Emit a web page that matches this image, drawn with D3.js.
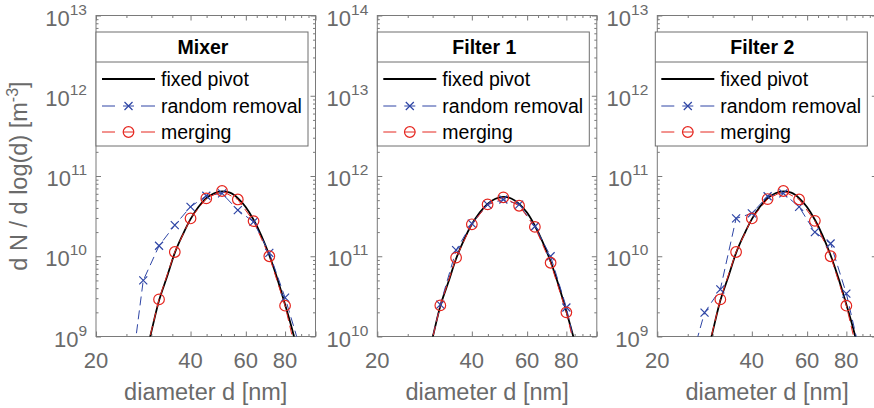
<!DOCTYPE html>
<html><head><meta charset="utf-8">
<script src="https://cdn.jsdelivr.net/npm/d3@7"></script>
<style>
html,body{margin:0;padding:0;background:#fff;}
svg{display:block;font-family:"Liberation Sans",Arial,Helvetica,sans-serif;}
</style></head>
<body>
<svg id="chart" width="874" height="408"></svg>
<script>
// ---------------- DATA ----------------
const panelTitles = ["Mixer", "Filter 1", "Filter 2"];
const yDecadeMin = [9, 10, 9];           // lower decade exponent of each panel
const yDecadeMax = [13, 14, 13];         // upper decade exponent of each panel
const xTickLabels = [20, 40, 60, 80];
const xMinorTicks = [25, 30, 35, 45, 50, 55, 65, 70, 75, 85, 90, 95];
const seriesNames = ["fixed pivot", "random removal", "merging"];

// section diameters [nm] used by the sectional methods
const sectionDiam = [25.2, 28.28, 31.75, 35.64, 40.0, 44.9, 50.4, 56.57, 63.5, 71.27, 80.0, 89.8];
// fine grid of the fixed-pivot solution [nm]
const pivotDiam = [25.2, 26.7, 28.28, 29.97, 31.75, 33.64, 35.64, 37.76, 40.0, 42.38, 44.9, 47.57,
                   50.4, 53.39, 56.57, 59.93, 63.5, 67.27, 71.27, 75.51, 80.0, 84.76, 89.8];

// Mixer
const mixerPivot   = [4.8e7, 1.5e8, 4.3e8, 1.12e9, 2.8e9, 5.5e9, 1.1e10, 1.85e10, 2.9e10, 4.1e10, 5.28e10, 6.1e10,
                      6.45e10, 6.2e10, 5.3e10, 4.1e10, 2.85e10, 1.8e10, 1.03e10, 5.3e9, 2.5e9, 1.12e9, 4.3e8];
const mixerRandom  = [1.5e8, 5.0e9, 1.35e10, 2.44e10, 4.13e10, 5.68e10, 6.08e10, 3.76e10, 2.68e10, 1.1e10, 3.05e9, 6.7e8];
const mixerMerging = [2.0e7, 4.5e8, 2.9e9, 1.13e10, 2.96e10, 5.26e10, 6.5e10, 5.1e10, 2.74e10, 1.0e10, 2.42e9, 3.5e8];

// Filter 1
const filter1Pivot   = [4.0e8, 1.3e9, 3.7e9, 9.5e9, 2.4e10, 4.7e10, 9.3e10, 1.6e11, 2.5e11, 3.5e11, 4.5e11, 5.2e11,
                        5.5e11, 5.25e11, 4.5e11, 3.5e11, 2.4e11, 1.5e11, 8.6e10, 4.4e10, 2.05e10, 9.0e9, 3.5e9];
const filter1Random  = [3.0e8, 3.6e9, 2.5e10, 1.19e11, 2.55e11, 4.4e11, 5.1e11, 4.4e11, 2.35e11, 1.0e11, 2.3e10, 3.0e9];
const filter1Merging = [3.0e8, 3.6e9, 2.44e10, 9.6e10, 2.5e11, 4.43e11, 5.42e11, 4.26e11, 2.32e11, 8.3e10, 2.0e10, 3.0e9];

// Filter 2
const filter2Pivot   = [4.8e7, 1.5e8, 4.3e8, 1.12e9, 2.8e9, 5.5e9, 1.1e10, 1.85e10, 2.9e10, 4.1e10, 5.28e10, 6.1e10,
                        6.45e10, 6.2e10, 5.3e10, 4.1e10, 2.85e10, 1.8e10, 1.03e10, 5.3e9, 2.5e9, 1.12e9, 4.3e8];
const filter2Random  = [4.0e8, 1.98e9, 3.87e9, 2.96e10, 3.42e10, 5.6e10, 6.08e10, 4.13e10, 2.0e10, 1.44e10, 3.42e9, 4.8e8];
const filter2Merging = [2.0e7, 4.5e8, 2.9e9, 1.13e10, 2.96e10, 5.16e10, 6.5e10, 5.1e10, 2.76e10, 1.0e10, 2.42e9, 3.5e8];

const pivotSeries   = [mixerPivot, filter1Pivot, filter2Pivot];
const randomSeries  = [mixerRandom, filter1Random, filter2Random];
const mergingSeries = [mixerMerging, filter1Merging, filter2Merging];

// ---------------- LAYOUT / STYLE ----------------
const panelLeft = [96, 377.3, 657.3];
const plotW = 219.5, plotTop = 15.5, plotBottom = 336.5;
const legendOffset = [0, 0, -2];
const axisColor = "#7a7a7a", tickTextColor = "#6a6a6a";
const blue = "#2e45a5", red = "#e5261f";

const svg = d3.select("#chart");

panelTitles.forEach((title, p) => {
  const L = panelLeft[p];
  const x = d3.scaleLog().domain([20, 100]).range([L, L + plotW]);
  const y = d3.scaleLog().domain([Math.pow(10, yDecadeMin[p]), Math.pow(10, yDecadeMax[p])]).range([plotBottom, plotTop]);
  const g = svg.append("g");

  const clipId = "clip" + p;
  svg.append("clipPath").attr("id", clipId).append("rect")
    .attr("x", L).attr("y", plotTop).attr("width", plotW).attr("height", plotBottom - plotTop);

  // y ticks
  const yMajor = d3.range(yDecadeMin[p], yDecadeMax[p] + 1).map(e => Math.pow(10, e));
  const yMinor = [];
  for (let e = yDecadeMin[p]; e < yDecadeMax[p]; e++) for (let m = 2; m <= 9; m++) yMinor.push(m * Math.pow(10, e));

  function styleAxis(sel) {
    sel.select(".domain").remove();
    sel.selectAll(".tick line").attr("stroke", axisColor).attr("stroke-width", 1);
    sel.selectAll(".tick text").remove();
  }
  // axes ticks (inward) on all four sides
  g.append("g").attr("transform", `translate(0,${plotBottom})`)
    .call(d3.axisBottom(x).tickValues(xTickLabels.concat([100])).tickSizeInner(-5).tickSizeOuter(0)).call(styleAxis);
  g.append("g").attr("transform", `translate(0,${plotBottom})`)
    .call(d3.axisBottom(x).tickValues(xMinorTicks).tickSizeInner(-2.5).tickSizeOuter(0)).call(styleAxis);
  g.append("g").attr("transform", `translate(0,${plotTop})`)
    .call(d3.axisTop(x).tickValues(xTickLabels.concat([100])).tickSizeInner(-5).tickSizeOuter(0)).call(styleAxis);
  g.append("g").attr("transform", `translate(0,${plotTop})`)
    .call(d3.axisTop(x).tickValues(xMinorTicks).tickSizeInner(-2.5).tickSizeOuter(0)).call(styleAxis);
  g.append("g").attr("transform", `translate(${L},0)`)
    .call(d3.axisLeft(y).tickValues(yMajor).tickSizeInner(-5).tickSizeOuter(0)).call(styleAxis);
  g.append("g").attr("transform", `translate(${L},0)`)
    .call(d3.axisLeft(y).tickValues(yMinor).tickSizeInner(-2.5).tickSizeOuter(0)).call(styleAxis);
  g.append("g").attr("transform", `translate(${L + plotW},0)`)
    .call(d3.axisRight(y).tickValues(yMajor).tickSizeInner(-5).tickSizeOuter(0)).call(styleAxis);
  g.append("g").attr("transform", `translate(${L + plotW},0)`)
    .call(d3.axisRight(y).tickValues(yMinor).tickSizeInner(-2.5).tickSizeOuter(0)).call(styleAxis);

  // box
  g.append("rect").attr("x", L).attr("y", plotTop).attr("width", plotW).attr("height", plotBottom - plotTop)
    .attr("fill", "none").attr("stroke", axisColor).attr("stroke-width", 1);

  // x tick labels
  g.selectAll(".xlab").data(xTickLabels).enter().append("text")
    .attr("x", d => x(d)).attr("y", 368).attr("text-anchor", "middle")
    .attr("font-size", 22).attr("fill", tickTextColor).text(d => d);

  // y tick labels 10^k
  yMajor.forEach(v => {
    const e = Math.round(Math.log10(v));
    const t = g.append("text").attr("x", L - 9).attr("y", y(v) + 10).attr("text-anchor", "end")
      .attr("font-size", 22).attr("fill", tickTextColor);
    t.append("tspan").text("10");
    t.append("tspan").attr("dy", -11).attr("font-size", 15.5).text(String(e));
  });

  // x axis label
  g.append("text").attr("x", L + plotW / 2).attr("y", 400).attr("text-anchor", "middle")
    .attr("font-size", 23.5).attr("fill", tickTextColor).text("diameter d [nm]");

  // data
  const plot = g.append("g").attr("clip-path", `url(#${clipId})`);
  const line = d3.line().x(d => x(d[0])).y(d => y(d[1]));
  const smooth = d3.line().x(d => x(d[0])).y(d => y(d[1])).curve(d3.curveMonotoneX);

  const pivotPts = pivotDiam.map((d, i) => [d, pivotSeries[p][i]]);
  const randPts = sectionDiam.map((d, i) => [d, randomSeries[p][i]]);
  const mergPts = sectionDiam.map((d, i) => [d, mergingSeries[p][i]]);

  plot.append("path").attr("d", smooth(pivotPts)).attr("fill", "none").attr("stroke", "#000").attr("stroke-width", 1.8);
  plot.append("path").attr("d", line(randPts)).attr("fill", "none").attr("stroke", blue).attr("stroke-width", 1)
    .attr("stroke-dasharray", "9,5");
  plot.append("path").attr("d", line(mergPts)).attr("fill", "none").attr("stroke", red).attr("stroke-width", 1)
    .attr("stroke-dasharray", "9,5");

  const inRange = d => d[1] >= y.domain()[0] && d[1] <= y.domain()[1];
  const cs = 4;
  plot.selectAll(".cross").data(randPts.filter(inRange)).enter().append("path")
    .attr("d", d => `M${x(d[0]) - cs},${y(d[1]) - cs}L${x(d[0]) + cs},${y(d[1]) + cs}M${x(d[0]) - cs},${y(d[1]) + cs}L${x(d[0]) + cs},${y(d[1]) - cs}`)
    .attr("stroke", blue).attr("stroke-width", 1.2).attr("fill", "none");
  plot.selectAll(".circ").data(mergPts.filter(inRange)).enter().append("circle")
    .attr("cx", d => x(d[0])).attr("cy", d => y(d[1])).attr("r", 5.3)
    .attr("fill", "none").attr("stroke", red).attr("stroke-width", 1.2);

  // legend
  const lx = L + legendOffset[p], ly = 32, lw = 212, lh = 114;
  const lg = g.append("g");
  lg.append("rect").attr("x", lx).attr("y", ly).attr("width", lw).attr("height", lh)
    .attr("fill", "#fff").attr("stroke", "#6e6e6e").attr("stroke-width", 1);
  lg.append("line").attr("x1", lx).attr("x2", lx + lw).attr("y1", ly + 30).attr("y2", ly + 30)
    .attr("stroke", "#6e6e6e").attr("stroke-width", 1);
  lg.append("text").attr("x", lx + lw / 2 + 1).attr("y", ly + 22).attr("text-anchor", "middle")
    .attr("font-size", 19.5).attr("font-weight", "bold").attr("fill", "#000").text(title);
  const rowY = [79, 106, 132];
  const sx0 = lx + 6, sx1 = lx + 59, sxm = (sx0 + sx1) / 2;
  seriesNames.forEach((name, i) => {
    const yy = rowY[i];
    if (i === 0) {
      lg.append("line").attr("x1", sx0).attr("x2", sx1).attr("y1", yy).attr("y2", yy)
        .attr("stroke", "#000").attr("stroke-width", 1.8);
    } else {
      const col = i === 1 ? blue : red;
      lg.append("line").attr("x1", sx0).attr("x2", sx0 + 13).attr("y1", yy).attr("y2", yy).attr("stroke", col).attr("stroke-width", 1);
      lg.append("line").attr("x1", sx1 - 14).attr("x2", sx1).attr("y1", yy).attr("y2", yy).attr("stroke", col).attr("stroke-width", 1);
      lg.append("line").attr("x1", sxm - 5.5).attr("x2", sxm + 5.5).attr("y1", yy).attr("y2", yy).attr("stroke", col).attr("stroke-width", 1);
      if (i === 1) {
        lg.append("path").attr("d", `M${sxm - cs},${yy - cs}L${sxm + cs},${yy + cs}M${sxm - cs},${yy + cs}L${sxm + cs},${yy - cs}`)
          .attr("stroke", col).attr("stroke-width", 1.2);
      } else {
        lg.append("circle").attr("cx", sxm).attr("cy", yy).attr("r", 5.3).attr("fill", "none").attr("stroke", col).attr("stroke-width", 1.2);
      }
    }
    lg.append("text").attr("x", lx + 65).attr("y", yy + 7).attr("font-size", 19.5).attr("fill", "#000").text(name);
  });
});

// y axis label (first panel only)
const yl = svg.append("text").attr("transform", "translate(27,176) rotate(-90)").attr("text-anchor", "middle")
  .attr("font-size", 23.5).attr("fill", tickTextColor);
yl.append("tspan").text("d N / d log(d) [m");
yl.append("tspan").attr("dy", -9).attr("font-size", 16).text("-3");
yl.append("tspan").attr("dy", 9).text("]");
</script>
</body></html>
